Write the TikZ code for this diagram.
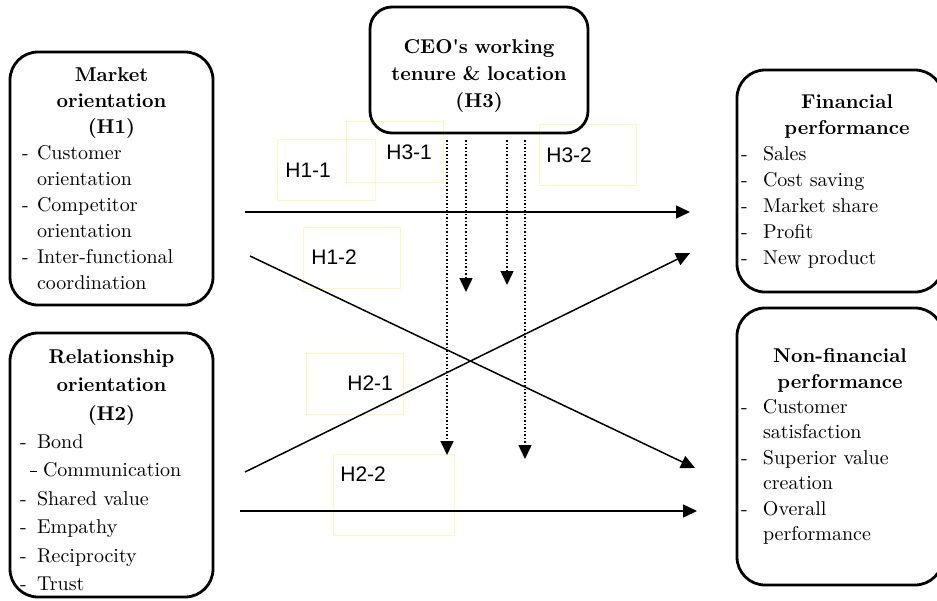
\documentclass[tikz,border=0pt]{standalone}
\usepackage{fontspec}
\newfontfamily\hfont{Liberation Sans}
\usetikzlibrary{arrows.meta}
\setlength{\parindent}{0pt}
\definecolor{lblyellow}{RGB}{250,250,185}
\newcommand{\hy}[1][7.5pt]{\makebox[#1][l]{-}}
\newcommand{\ct}[1][7.5pt]{\hspace*{#1}}

\begin{document}
\begin{tikzpicture}
    \def\dx{0.5pt}
    \def\dy{-0.5pt}

    \useasboundingbox (0,0) rectangle (937*\dx,600*\dy);

    \tikzstyle{block}=[draw=black, line width=1.4pt, rounded corners=14pt, align=left, inner ysep=0pt, font=\fontsize{10}{13}\selectfont]
    \tikzstyle{hypbox}=[draw=lblyellow, line width=0.4pt, inner sep=0pt]
    \tikzstyle{hyp}=[inner sep=0pt, anchor=west, font=\hfont\fontsize{10.5}{12}\selectfont]

    % hypothesis label frames
    \node[hypbox, minimum width=98*\dx, minimum height=61*\dx]  (b11) at (326*\dx,169.5*\dy) {};
    \node[hypbox, minimum width=97*\dx, minimum height=61*\dx]  (b31) at (394.5*\dx,151.5*\dy) {};
    \node[hypbox, minimum width=97*\dx, minimum height=61*\dx]  (b12) at (351.5*\dx,257.5*\dy) {};
    \node[hypbox, minimum width=97*\dx, minimum height=61*\dx]  (b32) at (587.5*\dx,154.5*\dy) {};
    \node[hypbox, minimum width=97*\dx, minimum height=61*\dx]  (b21) at (354.5*\dx,383.5*\dy) {};
    \node[hypbox, minimum width=121*\dx, minimum height=81*\dx] (b22) at (393.5*\dx,494.5*\dy) {};

    \node[hyp] (h11) at (285*\dx,170*\dy) {H1-1};
    \node[hyp] (h31) at (386*\dx,152*\dy) {H3-1};
    \node[hyp] (h12) at (311*\dx,257*\dy) {H1-2};
    \node[hyp] (h32) at (546*\dx,155*\dy) {H3-2};
    \node[hyp] (h21) at (347*\dx,383*\dy) {H2-1};
    \node[hyp] (h22) at (340*\dx,474*\dy) {H2-2};

    % constructs
    \node[block, minimum height=253*\dx, text width=89.5pt, inner xsep=6pt] (mo) at (111.5*\dx,178.5*\dy) {%
        {\centering\bfseries Market\\orientation\\(H1)\par}
        \hy Customer\\
        \ct orientation\\
        \hy Competitor\\
        \ct orientation\\
        \hy Inter-functional\\
        \ct coordination};
    \node[block, minimum height=264*\dx, text width=91.5pt, inner xsep=5pt, font=\fontsize{10}{14.2}\selectfont] (ro) at (111.5*\dx,465*\dy) {%
        {\centering\bfseries\rule{0pt}{12pt}Relationship\\orientation\\(H2)\par}
        \hy[8.5pt]Bond\\
        \hspace*{5pt}\makebox[6.5pt][l]{\rule[2.4pt]{3.5pt}{0.4pt}}Communication\\
        \hy[8.5pt]Shared value\\
        \hy[8.5pt]Empathy\\
        \hy[8.5pt]Reciprocity\\
        \hy[8.5pt]Trust};
    \node[block, rounded corners=11pt, minimum height=126*\dx, text width=101pt, inner xsep=4pt, align=center, font=\bfseries\fontsize{10}{13.5}\selectfont] (ceo) at (479*\dx,70*\dy) {\rule{0pt}{13pt}CEO\textquotesingle s working\\tenure \& location\\(H3)};
    \node[block, minimum height=222*\dx, text width=99pt, inner xsep=2pt] (fp) at (840*\dx,181*\dy) {%
        {\centering\bfseries\hspace*{7pt}Financial\\\hspace*{7pt}performance\par}
        \hy[11pt]Sales\\
        \hy[11pt]Cost saving\\
        \hy[11pt]Market share\\
        \hy[11pt]Profit\\
        \hy[11pt]New product};
    \node[block, minimum height=277*\dx, text width=99pt, inner xsep=2pt, font=\fontsize{10}{12.7}\selectfont] (nfp) at (840*\dx,446.5*\dy) {%
        {\centering\bfseries Non-financial\\performance\par}
        \hy[11pt]Customer\\
        \ct[11pt]satisfaction\\
        \hy[11pt]Superior value\\
        \ct[11pt]creation\\
        \hy[11pt]Overall\\
        \ct[11pt]performance};

    % arrow end points
    \coordinate (s11) at (245*\dx,212*\dy);  \coordinate (e11) at (690*\dx,212*\dy);
    \coordinate (s12) at (250*\dx,256*\dy);  \coordinate (e12) at (695*\dx,468*\dy);
    \coordinate (s21) at (245*\dx,472*\dy);  \coordinate (e21) at (690*\dx,253*\dy);
    \coordinate (s22) at (240*\dx,511*\dy);  \coordinate (e22) at (697*\dx,511*\dy);

    \coordinate (m1s) at (447*\dx,140*\dy);  \coordinate (m1e) at (447*\dx,455*\dy);
    \coordinate (m2s) at (466*\dx,140*\dy);  \coordinate (m2e) at (466*\dx,292*\dy);
    \coordinate (m3s) at (507*\dx,140*\dy);  \coordinate (m3e) at (507*\dx,285*\dy);
    \coordinate (m4s) at (525*\dx,140*\dy);  \coordinate (m4e) at (525*\dx,459*\dy);

    \tikzstyle{fwd} = [draw=black, line width=0.75pt, -{Triangle[length=7pt,width=6.5pt]}]
    \tikzstyle{mod} = [fwd, densely dotted]

          \draw [fwd] (s11) -- (e11);
          \draw [fwd] (s12) -- (e12);
          \draw [fwd] (s21) -- (e21);
          \draw [fwd] (s22) -- (e22);
          \draw [mod] (m1s) -- (m1e);
          \draw [mod] (m2s) -- (m2e);
          \draw [mod] (m3s) -- (m3e);
          \draw [mod] (m4s) -- (m4e);
\end{tikzpicture}
\end{document}
